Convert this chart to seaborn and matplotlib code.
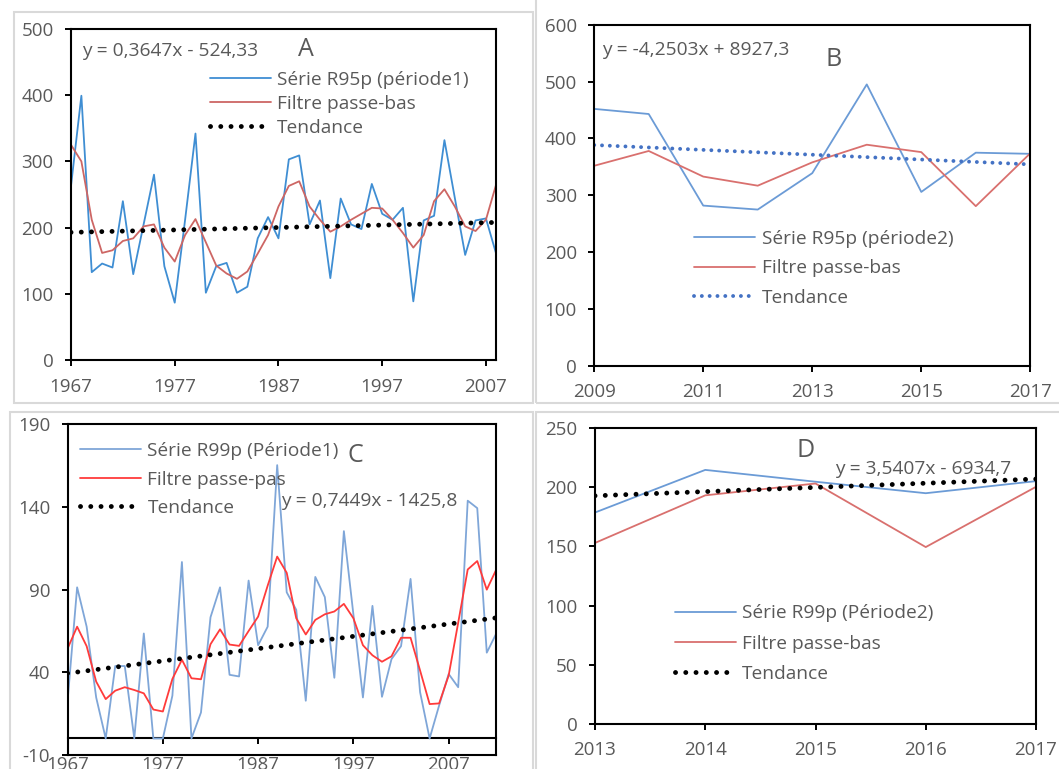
import numpy as np
import pandas as pd
import matplotlib
matplotlib.use("Agg")
import matplotlib.pyplot as plt
import seaborn as sns
from matplotlib.patches import Rectangle

# ---------------- DATA ----------------
# Panel A : R95p période 1
a_years = list(range(1967, 2009))
a_serie = [263, 399, 133, 146, 140, 240, 130, 205, 280, 142, 87, 212, 342, 102,
           142, 147, 102, 111, 184, 216, 184, 303, 309, 205, 241, 124, 244, 205,
           198, 266, 221, 212, 230, 89, 211, 218, 332, 245, 159, 211, 214, 160]
a_filtre = [325, 300, 212, 162, 166, 180, 184, 202, 205, 170, 149, 189, 213, 178,
            143, 131, 123, 134, 161, 189, 232, 263, 270, 232, 212, 194, 202, 212,
            221, 230, 229, 212, 192, 170, 189, 240, 258, 232, 202, 195, 212, 266]
a_slope, a_intercept = 0.3647, -524.33
a_xticks = [1967, 1977, 1987, 1997, 2007]
a_xticklabels = ["1967", "1977", "1987", "1997", "2007"]
a_yticks = [0, 100, 200, 300, 400, 500]
a_yticklabels = ["0", "100", "200", "300", "400", "500"]
a_labels = ["Série R95p (période1)", "Filtre passe-bas", "Tendance"]
a_equation = "y = 0,3647x - 524,33"

# Panel B : R95p période 2
b_years = list(range(2009, 2018))
b_serie = [452, 443, 282, 275, 339, 495, 306, 375, 373]
b_filtre = [352, 378, 333, 317, 358, 389, 376, 281, 374]
b_slope, b_intercept = -4.2503, 8927.3
b_xticks = [2009, 2011, 2013, 2015, 2017]
b_xticklabels = ["2009", "2011", "2013", "2015", "2017"]
b_yticks = [0, 100, 200, 300, 400, 500, 600]
b_yticklabels = ["0", "100", "200", "300", "400", "500", "600"]
b_labels = ["Série R95p (période2)", "Filtre passe-bas", "Tendance"]
b_equation = "y = -4,2503x + 8927,3"

# Panel C : R99p période 1
c_years = list(range(1967, 2013))
c_serie = [22.8, 91.4, 67.6, 24.8, 0, 43.8, 43.8, 0, 63.5, 0, 0, 25.9, 106.7, 0,
           15.7, 73.3, 91.4, 38.5, 37.5, 95.5, 56.4, 67.6, 165.3,
           88.4, 77.8, 22.8, 97.7, 85.5, 36.7, 125.4, 75, 24.8, 80.2, 25.2, 48,
           55.8, 96.5, 28, 0, 20, 39, 31, 143.8, 139.3, 51.9, 63.5]
c_filtre = [54.4, 67.6, 55.8, 34.4, 23.8, 28.9, 31, 29.3, 27.3, 17.5, 16.3, 36,
            47.6, 36.4, 35.8, 57, 66, 56.8, 56, 65, 73.7, 92.4, 110,
            100.2, 72.7, 62.9, 71.7, 75.1, 76.8, 81.4, 72.7, 56.4, 50.3, 46.4,
            49.7, 60.9, 60.9, 41.1, 20.8, 21.2, 38.1, 70, 102.2, 107.3, 90, 102.2]
c_slope, c_intercept = 0.7449, -1425.8
c_xticks = [1967, 1977, 1987, 1997, 2007]
c_xticklabels = ["1967", "1977", "1987", "1997", "2007"]
c_yticks = [-10, 40, 90, 140, 190]
c_yticklabels = ["-10", "40", "90", "140", "190"]
c_labels = ["Série R99p (Période1)", "Filtre passe-pas", "Tendance"]
c_equation = "y = 0,7449x - 1425,8"

# Panel D : R99p période 2
d_years = list(range(2013, 2018))
d_serie = [178.6, 214.6, 204.6, 194.9, 205.1]
d_filtre = [152.9, 193.1, 203.1, 149.4, 200.3]
d_slope, d_intercept = 3.5407, -6934.7
d_xticks = [2013, 2014, 2015, 2016, 2017]
d_xticklabels = ["2013", "2014", "2015", "2016", "2017"]
d_yticks = [0, 50, 100, 150, 200, 250]
d_yticklabels = ["0", "50", "100", "150", "200", "250"]
d_labels = ["Série R99p (Période2)", "Filtre passe-bas", "Tendance"]
d_equation = "y = 3,5407x - 6934,7"

# ---------------- STYLE ----------------
sns.set_theme(style="white")
plt.rcParams['font.family'] = ['Open Sans', 'DejaVu Sans']

W, H = 1059, 769
fig = plt.figure(figsize=(W / 100, H / 100), dpi=100)
GREY = "#595959"
FS_TICK = 13.5
FS_LEG = 13.8
FS_EQ = 13.8
FS_LET = 18


def fx(px):
    return px / W


def fy(py):
    return 1 - py / H


def make_ax(l, t, r, b):
    return fig.add_axes([fx(l), fy(b), (r - l) / W, (b - t) / H])


def border(l, t, r, b):
    fig.add_artist(Rectangle((fx(l), fy(b)), (r - l) / W, (b - t) / H,
                             transform=fig.transFigure, fill=False,
                             edgecolor="#D9D9D9", linewidth=1.5))


def style(ax, xlim, ylim, xticks, xlabels, yticks, ylabels):
    ax.set_xlim(*xlim)
    ax.set_ylim(*ylim)
    ax.set_xticks(xticks, labels=xlabels)
    ax.set_yticks(yticks, labels=ylabels)
    ax.set_xlabel("")
    ax.set_ylabel("")
    ax.grid(False)
    for s in ax.spines.values():
        s.set_visible(True)
        s.set_color("black")
        s.set_linewidth(1.5)
    ax.tick_params(axis="both", which="major", bottom=True, left=True,
                   direction="out", length=4.5, width=1.4, color="black",
                   labelsize=FS_TICK, labelcolor=GREY, pad=8)


def draw(ax, years, serie, filtre, slope, intercept, labels,
         c_serie, c_filtre, c_trend, trend_ls, trend_lw):
    yrs = np.array(years, dtype=float)
    sns.lineplot(x=years, y=serie, ax=ax, color=c_serie, linewidth=1.3,
                 label=labels[0], legend=False)
    sns.lineplot(x=years, y=filtre, ax=ax, color=c_filtre, linewidth=1.3,
                 label=labels[1], legend=False)
    sns.lineplot(x=years, y=slope * yrs + intercept, ax=ax, color=c_trend,
                 linewidth=trend_lw, linestyle=trend_ls,
                 dash_capstyle="round", label=labels[2], legend=False)


def legend(ax, x, y, spacing):
    ax.legend(loc="upper left", bbox_to_anchor=(fx(x), fy(y)),
              bbox_transform=fig.transFigure, frameon=False, fontsize=FS_LEG,
              labelcolor=GREY, handlelength=3.2, handletextpad=0.33,
              borderpad=0, borderaxespad=0, labelspacing=spacing)


# panel borders
border(13.5, 12.3, 533.3, 403.3)
border(536.2, -3, 1065, 403.3)
border(9.5, 411.7, 533.3, 775)
border(536.2, 411.7, 1065, 775)

DOT_BLACK = (0, (0.01, 2.1))

# ---------------- A ----------------
axA = make_ax(71, 28.7, 496.3, 360.4)
draw(axA, a_years, a_serie, a_filtre, a_slope, a_intercept, a_labels,
     "#3F8ED3", "#CD6664", "black", DOT_BLACK, 3.5)
style(axA, (1967, 2008), (0, 500), a_xticks, a_xticklabels, a_yticks, a_yticklabels)
legend(axA, 209.6, 71.1, 0.3)
fig.text(fx(82), fy(51), a_equation, fontsize=FS_EQ, color=GREY, ha="left", va="center")
fig.text(fx(306), fy(49), "A", fontsize=FS_LET, color=GREY, ha="center", va="center")

# ---------------- B ----------------
axB = make_ax(594.2, 24.7, 1030.3, 366)
draw(axB, b_years, b_serie, b_filtre, b_slope, b_intercept, b_labels,
     "#6B9BD6", "#D9706E", "#4472C4", (0, (0.01, 2.0)), 2.8)
style(axB, (2009, 2017), (0, 600), b_xticks, b_xticklabels, b_yticks, b_yticklabels)
legend(axB, 694, 229.6, 0.61)
fig.text(fx(602), fy(50), b_equation, fontsize=FS_EQ, color=GREY, ha="left", va="center")
fig.text(fx(833.6), fy(59), "B", fontsize=FS_LET, color=GREY, ha="center", va="center")

# ---------------- C ----------------
axC = make_ax(67.6, 424.3, 496.3, 755)
draw(axC, c_years, c_serie, c_filtre, c_slope, c_intercept, c_labels,
     "#7FA6D8", "#FF3B3B", "black", DOT_BLACK, 3.5)
style(axC, (1967, 2012), (-10, 190), c_xticks, c_xticklabels, c_yticks, c_yticklabels)
axC.tick_params(axis="x", length=0, pad=1)
loc0 = (0 - c_yticks[0]) / (c_yticks[-1] - c_yticks[0])
secC = axC.secondary_xaxis(loc0)
secC.set_xticks(c_xticks, labels=["" for _ in c_xticks])
secC.spines["bottom"].set_linewidth(1.5)
secC.spines["bottom"].set_color("black")
secC.tick_params(axis="x", bottom=True, direction="out", length=4.5, width=1.4,
                 color="black", labelbottom=False)
legend(axC, 79.8, 442, 0.55)
fig.text(fx(280.6), fy(501.4), c_equation, fontsize=FS_EQ, color=GREY, ha="left", va="center")
fig.text(fx(355), fy(456), "C", fontsize=FS_LET, color=GREY, ha="center", va="center")

# ---------------- D ----------------
axD = make_ax(595, 428, 1036, 723.9)
draw(axD, d_years, d_serie, d_filtre, d_slope, d_intercept, d_labels,
     "#6B9BD6", "#D9706E", "black", DOT_BLACK, 3.5)
style(axD, (2013, 2017), (0, 250), d_xticks, d_xticklabels, d_yticks, d_yticklabels)
legend(axD, 674.7, 604.3, 0.64)
fig.text(fx(835.3), fy(468.6), d_equation, fontsize=FS_EQ, color=GREY, ha="left", va="center")
fig.text(fx(805.5), fy(450.7), "D", fontsize=FS_LET, color=GREY, ha="center", va="center")

fig.savefig("out.png", dpi=100)
